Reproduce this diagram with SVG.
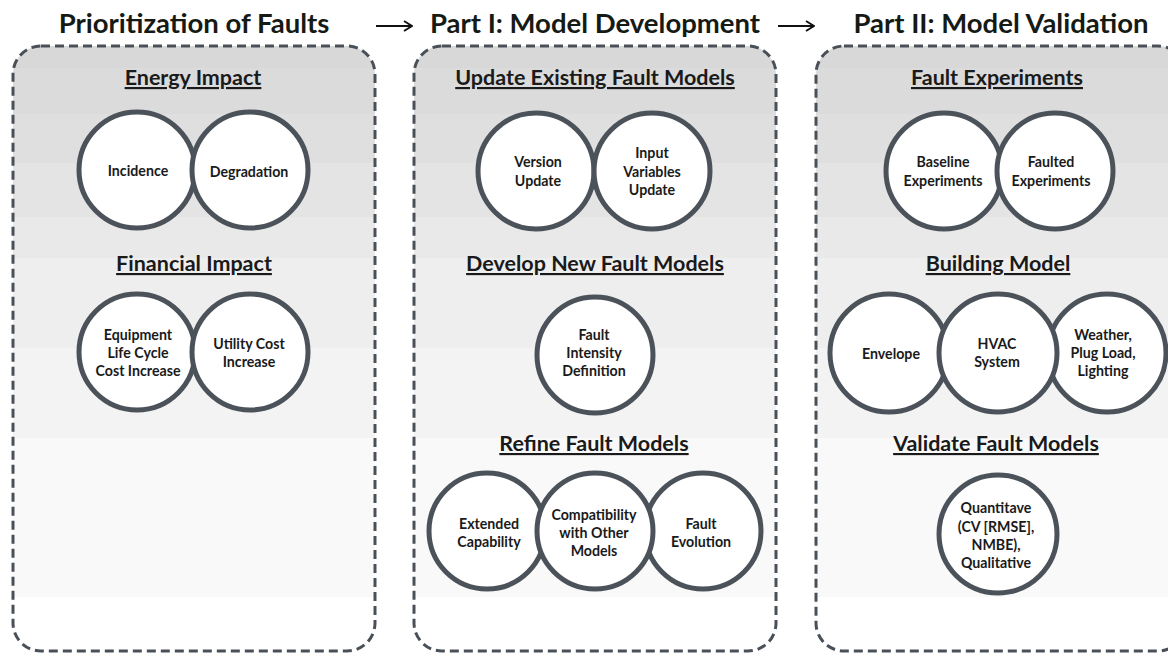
<svg xmlns="http://www.w3.org/2000/svg" width="1168" height="655" viewBox="0 0 1168 655">
  <defs>
    <!-- stepped grey bands, shared by all three panels -->
    <linearGradient id="bands" gradientUnits="userSpaceOnUse" x1="0" y1="0" x2="0" y2="655">
      <stop offset="0" stop-color="#d8d8d8"/>
      <stop offset="0.1038" stop-color="#d8d8d8"/>
      <stop offset="0.1038" stop-color="#dbdbdb"/>
      <stop offset="0.1740" stop-color="#dbdbdb"/>
      <stop offset="0.1740" stop-color="#dfdfdf"/>
      <stop offset="0.2489" stop-color="#dfdfdf"/>
      <stop offset="0.2489" stop-color="#e4e4e4"/>
      <stop offset="0.3313" stop-color="#e4e4e4"/>
      <stop offset="0.3313" stop-color="#e9e9e9"/>
      <stop offset="0.3939" stop-color="#e9e9e9"/>
      <stop offset="0.3939" stop-color="#eeeeee"/>
      <stop offset="0.5313" stop-color="#eeeeee"/>
      <stop offset="0.5313" stop-color="#f3f3f3"/>
      <stop offset="0.6687" stop-color="#f3f3f3"/>
      <stop offset="0.6687" stop-color="#f9f9f9"/>
      <stop offset="0.9115" stop-color="#f9f9f9"/>
      <stop offset="0.9115" stop-color="#ffffff"/>
      <stop offset="1" stop-color="#ffffff"/>
    </linearGradient>
    <marker id="head" viewBox="0 0 10 12" refX="9" refY="6" markerWidth="10" markerHeight="12" markerUnits="userSpaceOnUse" orient="auto">
      <polyline points="1,1 9,6 1,11" fill="none" stroke="#111" stroke-width="2"/>
    </marker>
  </defs>
  <style>
    .panel { fill: url(#bands); stroke: #4a5058; stroke-width: 3; stroke-dasharray: 9 5; }
    .title { font-family: Lato, "Open Sans", sans-serif; font-weight: 700; font-size: 27.5px; fill: #161a14; text-anchor: middle; }
    .sect { font-family: Lato, "Open Sans", sans-serif; font-weight: 700; font-size: 21.5px; fill: #1a1a1a; text-anchor: middle; text-decoration: underline; }
    .bub { fill: #ffffff; stroke: #4b525a; stroke-width: 5; }
    .lbl { font-family: Lato, "Open Sans", sans-serif; font-weight: 700; font-size: 14.2px; fill: #1a1a1a; text-anchor: middle; }
    .arrow { fill: none; stroke: #111; stroke-width: 2; }
  </style>

  <rect width="1168" height="655" fill="#ffffff"/>

  <!-- column headings -->
  <g id="headings">
    <text class="title" x="194" y="33">Prioritization of Faults</text>
    <text class="title" x="595" y="33">Part I: Model Development</text>
    <text class="title" x="1001" y="33">Part II: Model Validation</text>
  </g>

  <!-- arrows between column headings -->
  <g id="connectors">
    <path class="arrow" d="M376,26 H412" marker-end="url(#head)"/>
    <path class="arrow" d="M778,26 H814" marker-end="url(#head)"/>
  </g>

  <!-- Prioritization of Faults -->
  <g id="panel-prioritization">
    <rect class="panel" x="13" y="46" width="362" height="605" rx="28" ry="28"/>
    <text class="sect" x="193" y="85">Energy Impact</text>
    <text class="sect" x="194" y="271">Financial Impact</text>
  </g>
  <g id="node-incidence">
    <circle class="bub" cx="137" cy="170" r="58"/>
    <text class="lbl" x="138" y="176">Incidence</text>
  </g>
  <g id="node-degradation">
    <circle class="bub" cx="250" cy="170" r="58"/>
    <text class="lbl" x="249" y="177">Degradation</text>
  </g>
  <g id="node-equipment-cost">
    <circle class="bub" cx="137" cy="352" r="58"/>
    <text class="lbl" x="138"><tspan x="138" y="340">Equipment</tspan><tspan x="138" y="358">Life Cycle</tspan><tspan x="138" y="376">Cost Increase</tspan></text>
  </g>
  <g id="node-utility-cost">
    <circle class="bub" cx="250" cy="352" r="58"/>
    <text class="lbl" x="249"><tspan x="249" y="349">Utility Cost</tspan><tspan x="249" y="367">Increase</tspan></text>
  </g>

  <!-- Part I: Model Development -->
  <g id="panel-development">
    <rect class="panel" x="414" y="46" width="362" height="605" rx="28" ry="28"/>
    <text class="sect" x="595" y="85">Update Existing Fault Models</text>
    <text class="sect" x="595" y="271">Develop New Fault Models</text>
    <text class="sect" x="594" y="451">Refine Fault Models</text>
  </g>
  <g id="node-version-update">
    <circle class="bub" cx="536" cy="171" r="58"/>
    <text class="lbl" x="538"><tspan x="538" y="167">Version</tspan><tspan x="538" y="186">Update</tspan></text>
  </g>
  <g id="node-input-update">
    <circle class="bub" cx="652" cy="171" r="58"/>
    <text class="lbl" x="652"><tspan x="652" y="158">Input</tspan><tspan x="652" y="177">Variables</tspan><tspan x="652" y="195">Update</tspan></text>
  </g>
  <g id="node-intensity">
    <circle class="bub" cx="595" cy="355" r="58"/>
    <text class="lbl" x="594"><tspan x="594" y="340">Fault</tspan><tspan x="594" y="358">Intensity</tspan><tspan x="594" y="376">Definition</tspan></text>
  </g>
  <g id="node-extended">
    <circle class="bub" cx="487" cy="531" r="58"/>
    <text class="lbl" x="489"><tspan x="489" y="529">Extended</tspan><tspan x="489" y="547">Capability</tspan></text>
  </g>
  <g id="node-evolution">
    <circle class="bub" cx="703" cy="531" r="58"/>
    <text class="lbl" x="701"><tspan x="701" y="529">Fault</tspan><tspan x="701" y="547">Evolution</tspan></text>
  </g>
  <g id="node-compatibility">
    <circle class="bub" cx="595" cy="531" r="58"/>
    <text class="lbl" x="594"><tspan x="594" y="520">Compatibility</tspan><tspan x="594" y="538">with Other</tspan><tspan x="594" y="556">Models</tspan></text>
  </g>

  <!-- Part II: Model Validation -->
  <g id="panel-validation">
    <rect class="panel" x="816" y="46" width="370" height="605" rx="28" ry="28"/>
    <text class="sect" x="997" y="85">Fault Experiments</text>
    <text class="sect" x="998" y="271">Building Model</text>
    <text class="sect" x="996" y="451">Validate Fault Models</text>
  </g>
  <g id="node-baseline">
    <circle class="bub" cx="944" cy="171" r="58"/>
    <text class="lbl" x="943"><tspan x="943" y="167">Baseline</tspan><tspan x="943" y="186">Experiments</tspan></text>
  </g>
  <g id="node-faulted">
    <circle class="bub" cx="1055" cy="171" r="58"/>
    <text class="lbl" x="1051"><tspan x="1051" y="167">Faulted</tspan><tspan x="1051" y="186">Experiments</tspan></text>
  </g>
  <g id="node-envelope">
    <circle class="bub" cx="889" cy="353" r="59"/>
    <text class="lbl" x="891" y="359">Envelope</text>
  </g>
  <g id="node-weather">
    <circle class="bub" cx="1107" cy="353" r="59"/>
    <text class="lbl" x="1103"><tspan x="1103" y="340">Weather,</tspan><tspan x="1103" y="358">Plug Load,</tspan><tspan x="1103" y="376">Lighting</tspan></text>
  </g>
  <g id="node-hvac">
    <circle class="bub" cx="998" cy="353" r="59"/>
    <text class="lbl" x="997"><tspan x="997" y="349">HVAC</tspan><tspan x="997" y="367">System</tspan></text>
  </g>
  <g id="node-validation-metrics">
    <circle class="bub" cx="998" cy="534" r="59"/>
    <text class="lbl" x="996"><tspan x="996" y="513">Quantitave</tspan><tspan x="996" y="532">(CV [RMSE],</tspan><tspan x="996" y="550">NMBE),</tspan><tspan x="996" y="568">Qualitative</tspan></text>
  </g>
</svg>
